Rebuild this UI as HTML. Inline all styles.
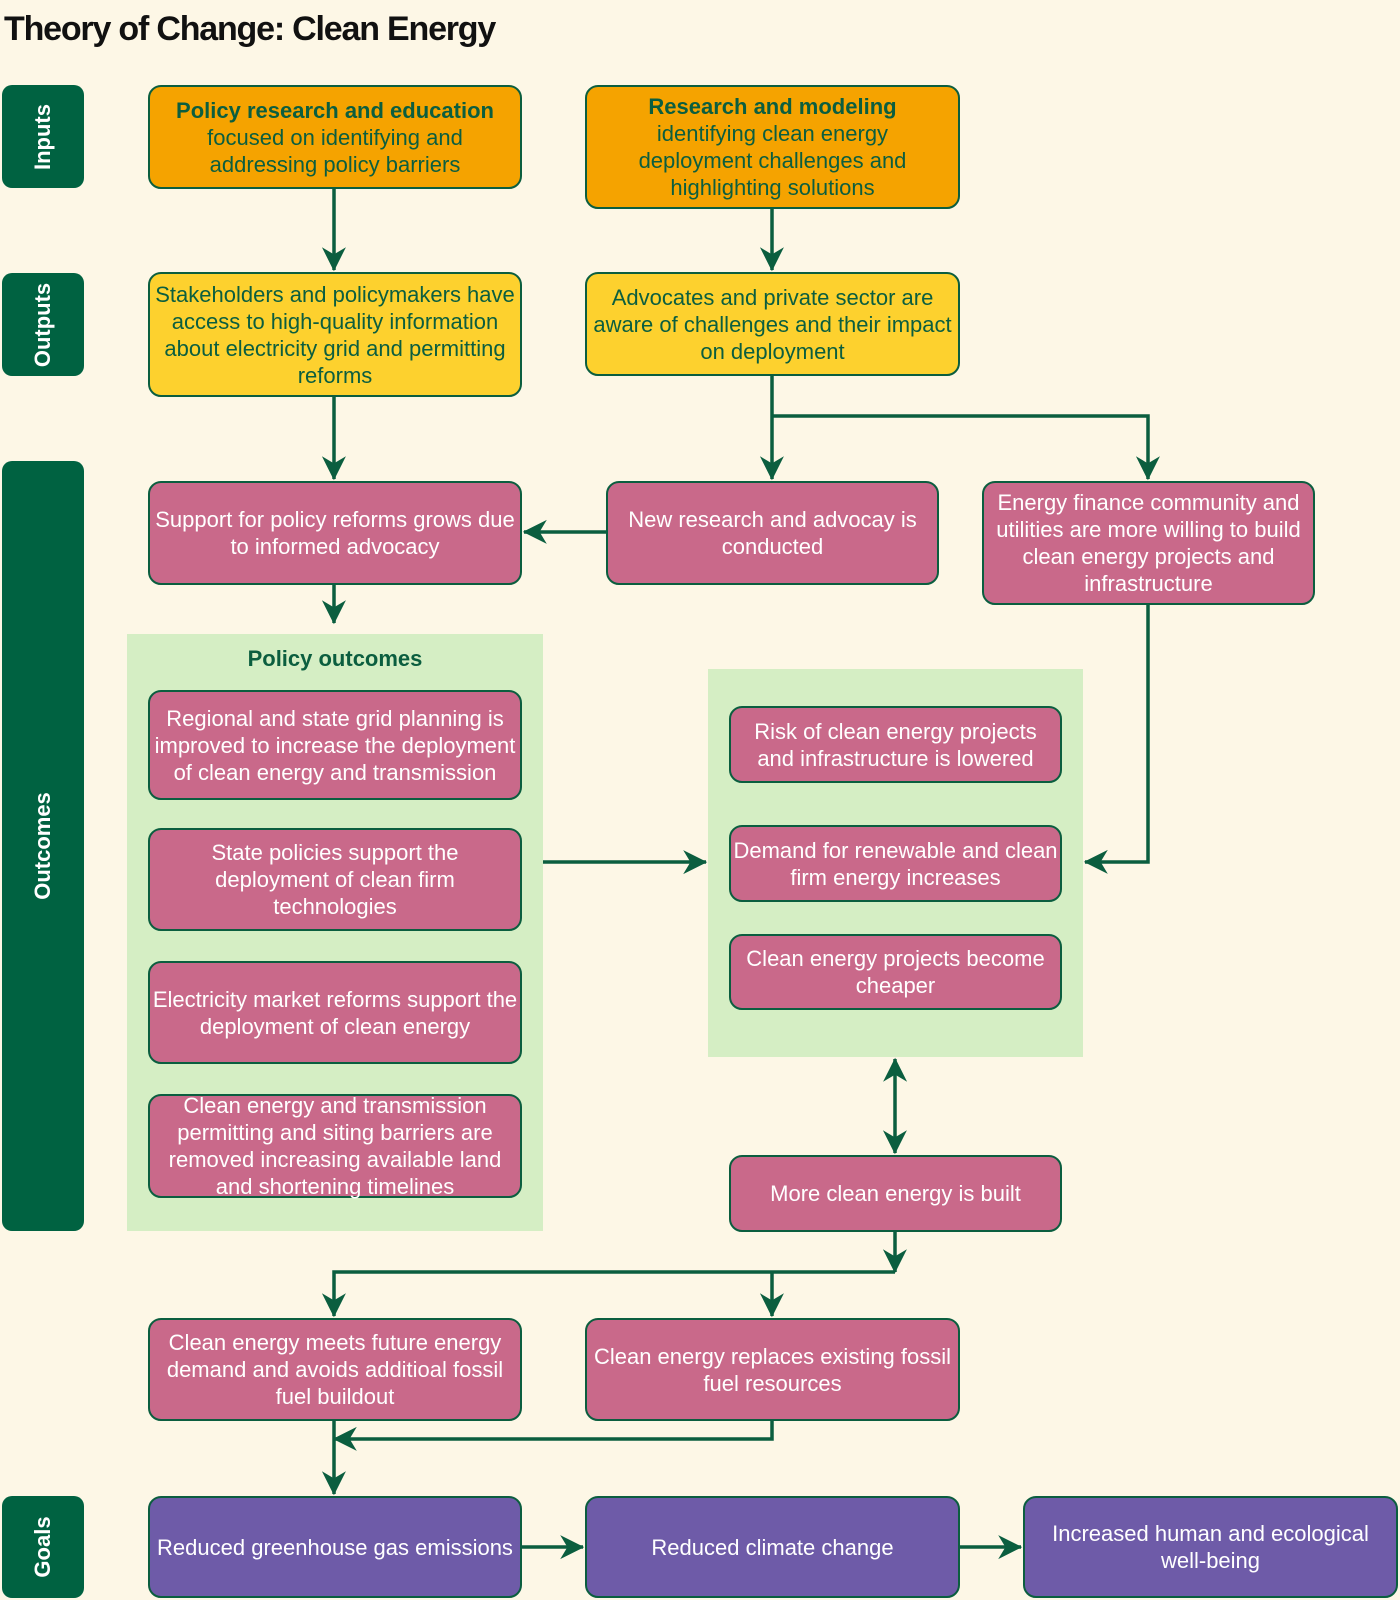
<!DOCTYPE html>
<html><head><meta charset="utf-8"><style>
body{margin:0;width:1400px;height:1600px;background:#fdf7e6;position:relative;overflow:hidden;font-family:"Liberation Sans",sans-serif}
.t{position:absolute;left:4px;top:10px;font-size:34px;font-weight:bold;letter-spacing:-1.2px;color:#111}
.b{position:absolute;box-sizing:border-box;border:2px solid #0b5e3f;border-radius:13px;display:flex;align-items:center;justify-content:center;text-align:center;font-size:22px;line-height:27px;padding:0 2px}
.o{background:#f5a300;color:#0b5e3f}
.y{background:#fdd12e;color:#0b5e3f}
.p{background:#c9698a;color:#fff}
.v{background:#6e5ba8;color:#fff}
.s{position:absolute;background:#006241;border-radius:10px;left:2px;width:82px}
.s span{position:absolute;left:50%;top:50%;transform:translate(-50%,-50%) rotate(-90deg);color:#fff;font-weight:bold;font-size:22px;white-space:nowrap}
.g{position:absolute;background:#d5eec4}
</style></head><body>
<div class="t">Theory of Change: Clean Energy</div>
<div class="s" style="top:85px;height:103px"><span>Inputs</span></div>
<div class="s" style="top:273px;height:103px"><span>Outputs</span></div>
<div class="s" style="top:461px;height:770px"><span>Outcomes</span></div>
<div class="s" style="top:1496px;height:102px"><span>Goals</span></div>
<div class="g" style="left:127px;top:634px;width:416px;height:597px"></div>
<div class="g" style="left:708px;top:669px;width:375px;height:388px"></div>
<div style="position:absolute;left:127px;width:416px;top:646px;text-align:center;font-weight:bold;font-size:22px;color:#0b5e3f">Policy outcomes</div>

<div class="b o" style="left:148px;top:85px;width:374px;height:104px"><div><b>Policy research and education</b><br>focused on identifying and<br>addressing policy barriers</div></div>
<div class="b o" style="left:585px;top:85px;width:375px;height:124px"><div><b>Research and modeling</b><br>identifying clean energy<br>deployment challenges and<br>highlighting solutions</div></div>
<div class="b y" style="left:148px;top:272px;width:374px;height:125px">Stakeholders and policymakers have access to high-quality information about electricity grid and permitting reforms</div>
<div class="b y" style="left:585px;top:272px;width:375px;height:104px">Advocates and private sector are aware of challenges and their impact on deployment</div>
<div class="b p" style="left:148px;top:481px;width:374px;height:104px">Support for policy reforms grows due to informed advocacy</div>
<div class="b p" style="left:606px;top:481px;width:333px;height:104px">New research and advocay is conducted</div>
<div class="b p" style="left:982px;top:481px;width:333px;height:124px">Energy finance community and utilities are more willing to build clean energy projects and infrastructure</div>
<div class="b p" style="left:148px;top:690px;width:374px;height:110px">Regional and state grid planning is improved to increase the deployment of clean energy and transmission</div>
<div class="b p" style="left:148px;top:828px;width:374px;height:103px">State policies support the deployment of clean firm technologies</div>
<div class="b p" style="left:148px;top:961px;width:374px;height:103px">Electricity market reforms support the deployment of clean energy</div>
<div class="b p" style="left:148px;top:1094px;width:374px;height:104px">Clean energy and transmission permitting and siting barriers are removed increasing available land and shortening timelines</div>
<div class="b p" style="left:729px;top:706px;width:333px;height:77px">Risk of clean energy projects and infrastructure is lowered</div>
<div class="b p" style="left:729px;top:825px;width:333px;height:77px">Demand for renewable and clean firm energy increases</div>
<div class="b p" style="left:729px;top:934px;width:333px;height:76px">Clean energy projects become cheaper</div>
<div class="b p" style="left:729px;top:1155px;width:333px;height:77px">More clean energy is built</div>
<div class="b p" style="left:148px;top:1318px;width:374px;height:103px">Clean energy meets future energy demand and avoids additioal fossil fuel buildout</div>
<div class="b p" style="left:585px;top:1318px;width:375px;height:103px">Clean energy replaces existing fossil fuel resources</div>
<div class="b v" style="left:148px;top:1496px;width:374px;height:102px">Reduced greenhouse gas emissions</div>
<div class="b v" style="left:585px;top:1496px;width:375px;height:102px">Reduced climate change</div>
<div class="b v" style="left:1023px;top:1496px;width:375px;height:102px">Increased human and ecological well-being</div>

<svg width="1400" height="1600" style="position:absolute;left:0;top:0" fill="none" stroke="#0b5e3f" stroke-width="3.5">
<defs><marker id="a" viewBox="0 0 10 10" refX="9" refY="5" markerWidth="8" markerHeight="8" markerUnits="userSpaceOnUse" orient="auto-start-reverse" style="overflow:visible"><path d="M0,0 L10,5 L0,10 L3,5 z" fill="#0b5e3f" stroke="none" transform="scale(3) translate(-6.5,-3.3)"/></marker></defs>
<g marker-end="url(#a)">
<path d="M334 189V270"/>
<path d="M772 209V270"/>
<path d="M334 397V479"/>
<path d="M772 376V479"/>
<path d="M772 416H1148V479"/>
<path d="M606 532H524"/>
<path d="M334 585V623"/>
<path d="M543 862H706"/>
<path d="M1148 605V862H1085"/>
<path d="M895 1272H334V1316"/>
<path d="M772 1272V1316"/>
<path d="M895 1232V1272"/>
<path d="M334 1421V1494"/>
<path d="M772 1421V1439H334"/>
<path d="M522 1547H583"/>
<path d="M960 1547H1021"/>
<path d="M895 1106V1059"/>
<path d="M895 1106V1153"/>
</g>
</svg>
</body></html>
